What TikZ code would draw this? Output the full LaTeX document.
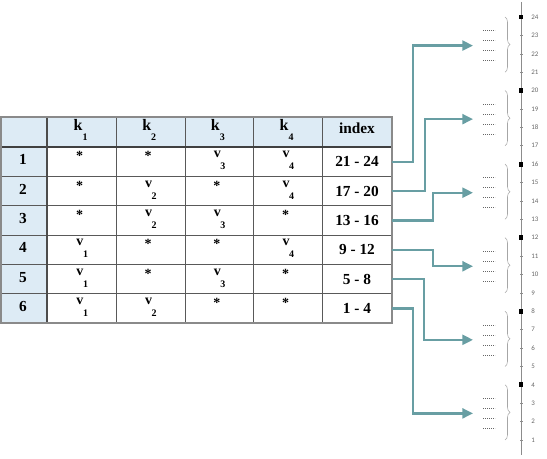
\documentclass[tikz,border=0pt]{standalone}
\usepackage{fontspec}
\setmainfont{Liberation Serif}
\newfontfamily\axisfont{Carlito}
\usetikzlibrary{arrows.meta,decorations.pathreplacing}

\definecolor{headblue}{RGB}{221,235,245}
\definecolor{linkteal}{RGB}{104,158,163}
\definecolor{framegray}{RGB}{138,138,138}

\begin{document}
\begin{tikzpicture}[x=0.75pt, y=-0.75pt,
  cell/.style={font=\bfseries\fontsize{11}{11}\selectfont, inner sep=0pt, anchor=base},
  headk/.style={font=\bfseries\fontsize{12}{12}\selectfont, inner sep=0pt, anchor=base},
  entry/.style={font=\bfseries\fontsize{10.5}{10.5}\selectfont, inner sep=0pt, anchor=base},
  sub/.style={font=\bfseries\fontsize{7.5}{7.5}\selectfont, inner sep=0pt, anchor=base},
  idxcell/.style={font=\bfseries\fontsize{11.5}{11.5}\selectfont, inner sep=0pt,
    minimum width=52.5pt, minimum height=21pt},
  link/.style={linkteal, line width=1.75pt, -{Triangle[length=8pt, width=7.5pt]}},
  ticklabel/.style={font=\axisfont\fontsize{5.2}{5.2}\selectfont, text=black!60,
    anchor=west, inner sep=0pt}]
  \useasboundingbox (0,0) rectangle (547,459);

  % table background
  \fill[headblue] (0,117) rectangle (392,147);
  \fill[headblue] (0,147) rectangle (47,323);

  % grid
  \foreach \x in {116,185,253,322}
    \draw[black!65, line width=0.6pt] (\x,117) -- (\x,323);
  \foreach \i in {1,...,5}
    \draw[black!65, line width=0.6pt] (0,{147+29.33*\i}) -- (392,{147+29.33*\i});
  \draw[black!75, line width=1pt] (0,147) -- (392,147);
  \draw[black!70, line width=1pt] (47,117) -- (47,323);
  \draw[framegray, line width=1.5pt] (1,117) rectangle (392,323);

  % header
  \foreach \c in {1,...,4} {
    \pgfmathsetmacro\cx{81.5+68.7*(\c-1)}
    \node[headk] (k\c) at (\cx-3.5,131) {k};
    \node[sub] (ks\c) at (\cx+3.5,141) {\c};
  }
  \node[idxcell, minimum height=0pt] (hidx) at (357,128) {index};

  % rows: flag 1 = v_c in column c, flag 0 = *
  \foreach \fa/\fb/\fc/\fd/\idx [count=\r] in
      {0/0/1/1/21 - 24, 0/1/0/1/17 - 20, 0/1/1/0/13 - 16,
       1/0/0/1/9 - 12, 1/0/1/0/5 - 8, 1/1/0/0/1 - 4} {
    \pgfmathsetmacro\top{147+29.33*(\r-1)}
    \node[cell, font=\bfseries\fontsize{11.5}{11.5}\selectfont] (num\r) at (23,\top+18) {\r};
    \node[idxcell] (idx\r) at (357,\top+14.7) {\idx};
    \foreach \f [count=\c] in {\fa,\fb,\fc,\fd} {
      \pgfmathsetmacro\cx{81.5+68.7*(\c-1)}
      \ifnum\f=1
        \node[entry] (v\r\c) at (\cx-1.5,\top+11) {v};
        \node[sub] (vs\r\c) at (\cx+4,\top+23) {\c};
      \else
        \node[entry] (s\r\c) at (\cx-2,\top+14) {*};
      \fi
    }
  }

  % index axis
  \draw[black!45, line width=0.5pt] (521,2) -- (521,455);
  \foreach \v in {1,...,24} {
    \pgfmathsetmacro\yv{17+(24-\v)*18.39}
    \draw[black!45, line width=0.4pt] (520,\yv) -- (523,\yv);
    \node[ticklabel] (lab\v) at (531,\yv) {\v};
  }

  % groups of four
  \foreach \g in {1,...,6} {
    \pgfmathsetmacro\ytop{17+(24-4*\g)*18.39}
    \pgfmathsetmacro\ybot{17+(27-4*\g)*18.39}
    \pgfmathsetmacro\yc{17+(25.5-4*\g)*18.39+1}
    \fill[black] (518.6,\ytop-2.4) rectangle (523.4,\ytop+2.4);
    \draw[black!35, line width=0.4pt, decorate,
      decoration={brace, amplitude=3.75pt}] (505,\ytop) -- (505,\ybot);
    \foreach \d in {-15,-5,5,15}
      \draw[black!60, line width=0.45pt, dash pattern=on 0.6pt off 0.9pt]
        (483,\yc+\d) -- (495,\yc+\d);
    \coordinate (grp\g) at (473,\yc);
  }

  % links from table rows to index groups
  \foreach \r/\xt/\g in {1/413/6, 2/425/5, 3/433/4, 4/433/3, 5/424/2, 6/413/1} {
    \pgfmathsetmacro\cy{147+29.33*(\r-1)+14.7}
    \draw[link] (idx\r.east) -- (\xt,\cy) |- (grp\g);
  }
\end{tikzpicture}
\end{document}
